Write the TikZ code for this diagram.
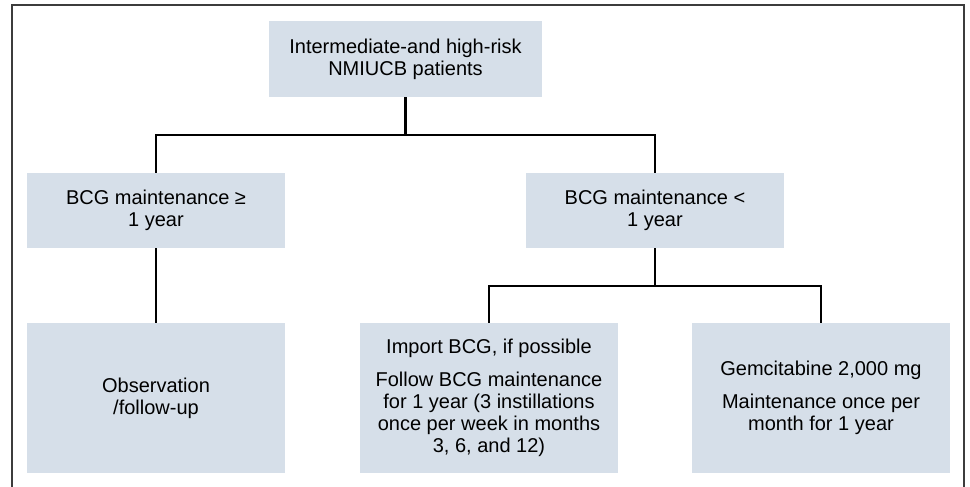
\documentclass[tikz,border=0pt]{standalone}
\usepackage{fontspec}
\setmainfont{Liberation Sans}
\definecolor{boxfill}{RGB}{214,223,233}
\definecolor{framecol}{RGB}{60,60,60}
\tikzset{
  flowbox/.style={fill=boxfill, inner sep=0pt, align=center,
    font=\fontsize{10}{11}\selectfont, text=black},
  wide/.style={minimum width=129pt},
  conn/.style={line width=1.2pt, black, line join=miter}
}
\begin{document}
\begin{tikzpicture}[x=0.5pt,y=-0.5pt]
\useasboundingbox (0,0) rectangle (970,487);
\draw[framecol, line width=1.1pt] (12,487) -- (12,5) -- (964,5) -- (964,487);

\node[flowbox, minimum width=136.5pt, minimum height=38pt] (top) at (405.5,59)
  {Intermediate-and high-risk\\NMIUCB patients};
\node[flowbox, wide, minimum height=37.5pt] (ml) at (156,210.5)
  {BCG maintenance ≥\\1 year};
\node[flowbox, wide, minimum height=37.5pt] (mr) at (655,210.5)
  {BCG maintenance <\\1 year};
\node[flowbox, wide, minimum height=75pt] (bl) at (156,398)
  {Observation\\/follow-up};
\node[flowbox, wide, minimum height=75pt] (bm) at (489,398)
  {Import BCG, if possible\\[5.5pt]Follow BCG maintenance\\for 1 year (3 instillations\\once per week in months\\3, 6, and 12)};
\node[flowbox, wide, minimum height=75pt] (br) at (821,398)
  {Gemcitabine 2,000 mg\\[5.5pt]Maintenance once per\\month for 1 year};

\coordinate (j1) at (405.5,135);
\coordinate (j2) at (655,286);

\draw[conn] (top.south) -- (j1);
\draw[conn] (ml.north) |- (j1) -| (mr.north);
\draw[conn] (ml.south) -- (bl.north);
\draw[conn] (mr.south) -- (j2);
\draw[conn] (bm.north) |- (j2) -| (br.north);
\end{tikzpicture}
\end{document}
